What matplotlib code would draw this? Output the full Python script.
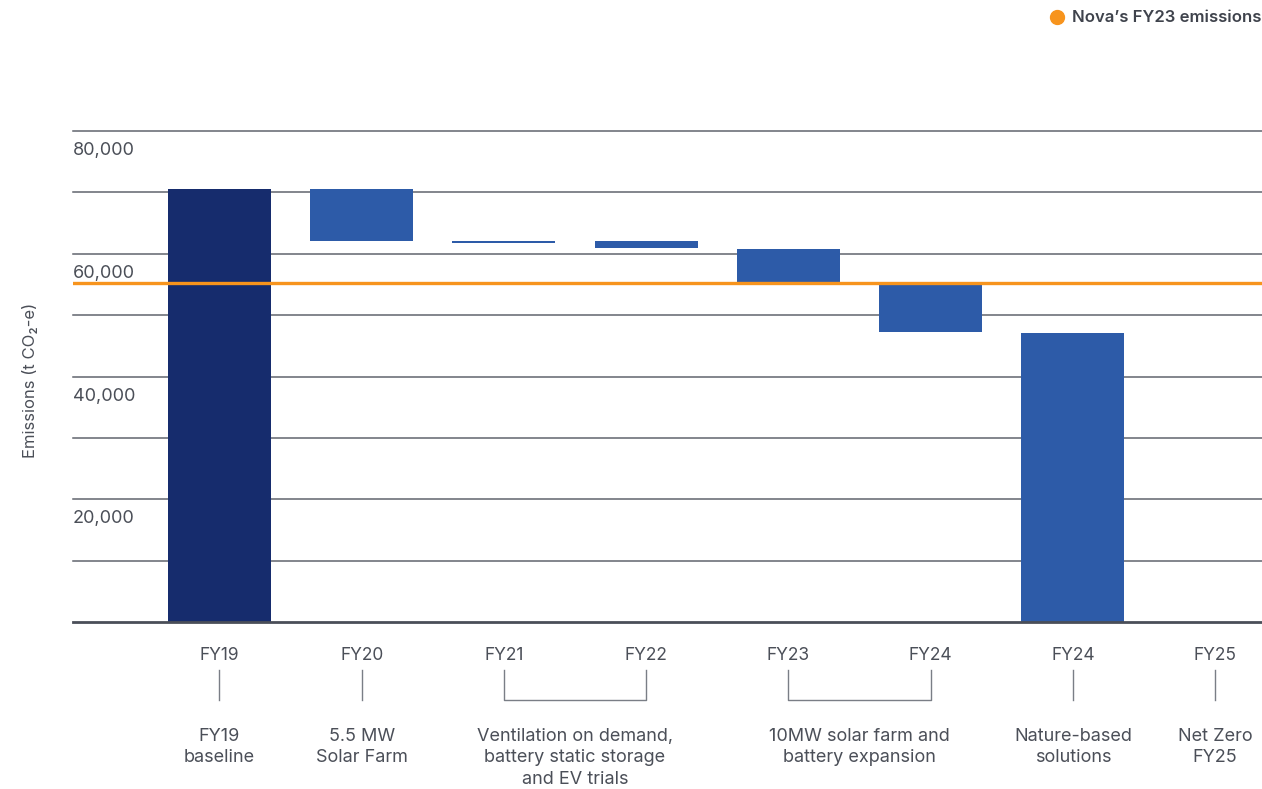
import matplotlib.pyplot as plt
import numpy as np

plt.rcParams['font.family'] = ['Inter', 'DejaVu Sans']

years = ["FY19", "FY20", "FY21", "FY22", "FY23", "FY24", "FY24", "FY25"]
bar_tops = [70500, 70500, 62000, 62000, 60800, 55000, 47100, 0]
bar_bottoms = [0, 62000, 61700, 61000, 55300, 47300, 0, 0]
bar_colors = ["#162c6d", "#2d5ba8", "#2d5ba8", "#2d5ba8", "#2d5ba8", "#2d5ba8", "#2d5ba8", "#2d5ba8"]
fy23_emissions = 55200
yticks = [0, 10000, 20000, 30000, 40000, 50000, 60000, 70000, 80000]
ylabels = {20000: "20,000", 40000: "40,000", 60000: "60,000", 80000: "80,000"}

# groups: (first bar index, last bar index, description)
groups = [(0, 0, "FY19\nbaseline"),
          (1, 1, "5.5 MW\nSolar Farm"),
          (2, 3, "Ventilation on demand,\nbattery static storage\nand EV trials"),
          (4, 5, "10MW solar farm and\nbattery expansion"),
          (6, 6, "Nature-based\nsolutions"),
          (7, 7, "Net Zero\nFY25")]

text_col = "#4b4f58"
grid_col = "#60646d"

fig = plt.figure(figsize=(12.62, 7.89), dpi=100)
ax = fig.add_axes([73 / 1262, 1 - 622 / 789, 1 - 73 / 1262, (622 - 131) / 789])

x = np.arange(len(years))
heights = np.array(bar_tops) - np.array(bar_bottoms)
ax.bar(x, heights, bottom=bar_bottoms, width=0.725, color=bar_colors, zorder=3)

ax.set_xlim(-1.03, 7.33)
ax.set_ylim(0, 80000)
for y in yticks:
    if y == 0:
        ax.axhline(y, color="#4a4e58", lw=2, zorder=4, clip_on=False)
    else:
        ax.axhline(y, color=grid_col, lw=1.1, zorder=1, clip_on=False)
for y, lab in ylabels.items():
    ax.annotate(lab, xy=(0, y), xycoords=('axes fraction', 'data'),
                xytext=(0, -11), textcoords='offset pixels',
                ha='left', va='top', fontsize=13, color=text_col)

ax.axhline(fy23_emissions, color="#f7941d", lw=2.4, zorder=5)

for s in ax.spines.values():
    s.set_visible(False)
ax.set_xticks([])
ax.set_yticks([])

# x labels, connectors and descriptions
axh = 622 - 131
def fy(px):
    return -px / axh

tr = ax.get_xaxis_transform()
for i, yr in enumerate(years):
    ax.text(x[i], fy(33), yr, transform=tr, ha='center', va='center',
            fontsize=12.5, color=text_col)
for a, b, desc in groups:
    if a == b:
        ax.plot([x[a], x[a]], [fy(48), fy(78)], transform=tr, color="#7a7e86",
                lw=1, clip_on=False)
        cx = x[a]
    else:
        ax.plot([x[a], x[a], x[b], x[b]], [fy(48), fy(78), fy(78), fy(48)],
                transform=tr, color="#7a7e86", lw=1, clip_on=False)
        cx = (x[a] + x[b]) / 2
    ax.text(cx, fy(106), desc, transform=tr, ha='center', va='top',
            fontsize=13, color=text_col, linespacing=1.33)

fig.text(30 / 1262, 1 - 380 / 789, "Emissions (t CO\u2082-e)", rotation=90,
         ha='center', va='center', fontsize=12, color=text_col)

# legend
fig.add_artist(plt.Line2D([1057 / 1262], [1 - 17 / 789], marker='o', markersize=10,
                          color="#f7941d", linestyle='none', transform=fig.transFigure))
fig.text(1072 / 1262, 1 - 17 / 789, "Nova\u2019s FY23 emissions", ha='left', va='center',
         fontsize=12, fontweight='semibold', color="#3f434c")

fig.savefig("out.png", dpi=100)
